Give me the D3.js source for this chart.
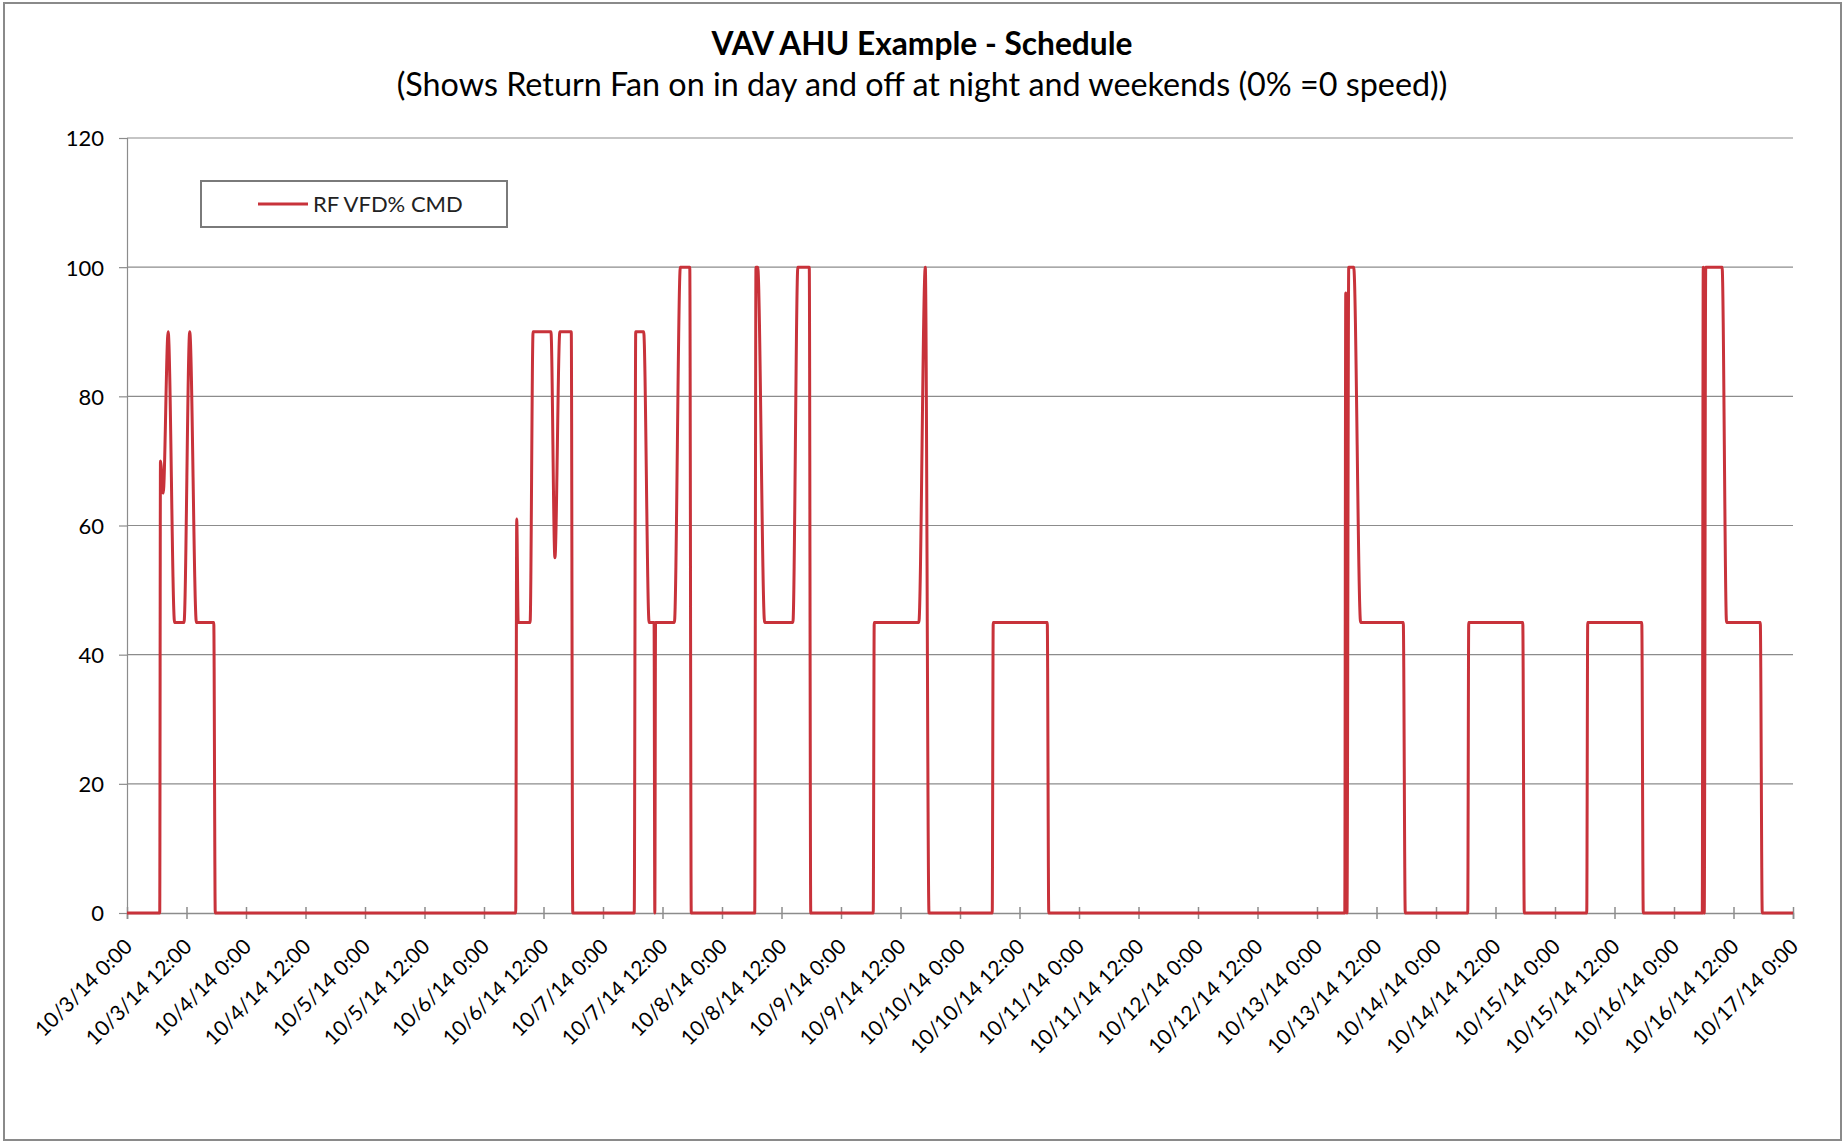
<!DOCTYPE html>
<html><head><meta charset="utf-8">
<script src="https://cdn.jsdelivr.net/npm/d3@7"></script>
<style>html,body{margin:0;padding:0;background:#fff;} svg{display:block;}</style>
</head><body>
<svg id="chart" width="1845" height="1142"></svg>
<script>
// ---------- data ----------
const chartTitle = "VAV AHU Example - Schedule";
const chartSubtitle = "(Shows Return Fan on in day and off at night and weekends (0% =0 speed))";
const seriesName = "RF VFD% CMD";
const yTicks = [0, 20, 40, 60, 80, 100, 120];
const xTickLabels = [
  "10/3/14 0:00","10/3/14 12:00","10/4/14 0:00","10/4/14 12:00","10/5/14 0:00","10/5/14 12:00",
  "10/6/14 0:00","10/6/14 12:00","10/7/14 0:00","10/7/14 12:00","10/8/14 0:00","10/8/14 12:00",
  "10/9/14 0:00","10/9/14 12:00","10/10/14 0:00","10/10/14 12:00","10/11/14 0:00","10/11/14 12:00",
  "10/12/14 0:00","10/12/14 12:00","10/13/14 0:00","10/13/14 12:00","10/14/14 0:00","10/14/14 12:00",
  "10/15/14 0:00","10/15/14 12:00","10/16/14 0:00","10/16/14 12:00","10/17/14 0:00"
];
const sampleTimes = [
  "10/3/14 0:00","10/3/14 6:36","10/3/14 6:45","10/3/14 7:18","10/3/14 8:18","10/3/14 9:36",
  "10/3/14 11:30","10/3/14 12:39","10/3/14 14:00","10/3/14 17:30","10/3/14 17:48",
  "10/6/14 6:24","10/6/14 6:36","10/6/14 6:54","10/6/14 9:18","10/6/14 9:54","10/6/14 13:30",
  "10/6/14 14:18","10/6/14 15:18","10/6/14 17:36","10/6/14 17:54",
  "10/7/14 6:18","10/7/14 6:36","10/7/14 8:12","10/7/14 9:18","10/7/14 10:18","10/7/14 10:27",
  "10/7/14 10:36","10/7/14 14:24","10/7/14 15:36","10/7/14 17:30","10/7/14 17:48",
  "10/8/14 6:36","10/8/14 6:51","10/8/14 7:12","10/8/14 8:36","10/8/14 14:18","10/8/14 15:18",
  "10/8/14 17:36","10/8/14 17:54",
  "10/9/14 6:30","10/9/14 6:42","10/9/14 15:42","10/9/14 17:00","10/9/14 17:45",
  "10/10/14 6:30","10/10/14 6:42","10/10/14 17:36","10/10/14 17:54",
  "10/13/14 5:36","10/13/14 5:48","10/13/14 6:03","10/13/14 6:24","10/13/14 7:24","10/13/14 8:48",
  "10/13/14 17:24","10/13/14 17:48",
  "10/14/14 6:24","10/14/14 6:36","10/14/14 17:30","10/14/14 17:48",
  "10/15/14 6:24","10/15/14 6:36","10/15/14 17:30","10/15/14 17:48",
  "10/16/14 5:42","10/16/14 5:54","10/16/14 6:06","10/16/14 6:24","10/16/14 9:42","10/16/14 10:36",
  "10/16/14 17:24","10/16/14 17:48","10/17/14 0:00"
];
const rfVfdCmd = [
  0, 0, 70, 65, 90, 45,
  45, 90, 45, 45, 0,
  0, 61, 45, 45, 90, 90,
  55, 90, 90, 0,
  0, 90, 90, 45, 45, 0,
  45, 45, 100, 100, 0,
  0, 100, 100, 45, 45, 100,
  100, 0,
  0, 45, 45, 100, 0,
  0, 45, 45, 0,
  0, 96, 0, 100, 100, 45,
  45, 0,
  0, 45, 45, 0,
  0, 45, 45, 0,
  0, 100, 0, 100, 100, 45,
  45, 0, 0
];

// ---------- layout ----------
const W = 1845, H = 1142;
const plot = {left: 127, right: 1793, top: 138, bottom: 913};
const FONT = "Lato, 'Noto Sans', 'DejaVu Sans', sans-serif";
const lineColor = "#c8323a";
const gridColor = "#8c8c8c";

const parse = d3.timeParse("%m/%d/%y %H:%M");
const data = sampleTimes.map((t, i) => ({t: parse(t), v: rfVfdCmd[i]}));
const xTicks = xTickLabels.map(parse);

const svg = d3.select("#chart");
svg.append("rect").attr("width", W).attr("height", H).attr("fill", "#fff");
svg.append("rect").attr("x", 4).attr("y", 3).attr("width", 1837).attr("height", 1137)
  .attr("fill", "none").attr("stroke", "#8a8a8a").attr("stroke-width", 2);

const x = d3.scaleTime().domain([xTicks[0], xTicks[xTicks.length - 1]]).range([plot.left, plot.right]);
const y = d3.scaleLinear().domain([0, 120]).range([plot.bottom, plot.top]);

// gridlines
svg.append("g").selectAll("line").data(yTicks.filter(d => d > 0)).join("line")
  .attr("x1", plot.left).attr("x2", plot.right)
  .attr("y1", d => y(d)).attr("y2", d => y(d))
  .attr("stroke", gridColor).attr("stroke-width", 1.2);

// y axis
const gy = svg.append("g").attr("transform", `translate(${plot.left},0)`)
  .call(d3.axisLeft(y).tickValues(yTicks).tickSize(8).tickFormat(d3.format("d")));
gy.select(".domain").attr("stroke", gridColor).attr("stroke-width", 1.2);
gy.selectAll(".tick line").attr("stroke", gridColor).attr("stroke-width", 1.2);
gy.selectAll(".tick text").attr("x", -23).attr("dy", "0.36em")
  .attr("font-family", FONT).attr("font-size", 22).attr("fill", "#000");

// x axis
const gx = svg.append("g").attr("transform", `translate(0,${plot.bottom})`)
  .call(d3.axisBottom(x).tickValues(xTicks).tickSize(6).tickFormat((d, i) => xTickLabels[i]));
gx.select(".domain").attr("stroke", gridColor).attr("stroke-width", 1.5);
gx.selectAll(".tick line").attr("y1", -6).attr("y2", 6).attr("stroke", gridColor).attr("stroke-width", 1.5);
gx.selectAll(".tick text")
  .attr("x", null).attr("y", null).attr("dy", null)
  .attr("text-anchor", "end")
  .attr("transform", "translate(6,35) rotate(-45)")
  .attr("font-family", FONT).attr("font-size", 21).attr("fill", "#000");

// series line
const line = d3.line().x(d => x(d.t)).y(d => y(d.v)).curve(d3.curveMonotoneX);
svg.append("path").datum(data).attr("d", line)
  .attr("fill", "none").attr("stroke", lineColor).attr("stroke-width", 3)
  .attr("stroke-linejoin", "round");

// legend
const lg = svg.append("g");
lg.append("rect").attr("x", 201).attr("y", 181).attr("width", 306).attr("height", 46)
  .attr("fill", "#fff").attr("stroke", "#7a7a7a").attr("stroke-width", 2);
lg.append("line").attr("x1", 258).attr("x2", 308).attr("y1", 204).attr("y2", 204)
  .attr("stroke", lineColor).attr("stroke-width", 3);
lg.append("text").attr("x", 313).attr("y", 204).attr("dy", "0.35em")
  .attr("font-family", FONT).attr("font-size", 22).attr("fill", "#222").text(seriesName);

// titles (fit to the reference widths)
function fitText(sel, target) {
  const w = sel.node().getComputedTextLength();
  const fs = parseFloat(sel.attr("font-size"));
  sel.attr("font-size", fs * target / w);
}
const t1 = svg.append("text").attr("x", 922).attr("y", 55).attr("text-anchor", "middle")
  .attr("font-family", FONT).attr("font-weight", "bold").attr("font-size", 28).attr("fill", "#000")
  .text(chartTitle);
fitText(t1, 421);
const t2 = svg.append("text").attr("x", 922).attr("y", 96).attr("text-anchor", "middle")
  .attr("font-family", FONT).attr("font-size", 28).attr("fill", "#000")
  .text(chartSubtitle);
fitText(t2, 1051);
</script>
</body></html>
